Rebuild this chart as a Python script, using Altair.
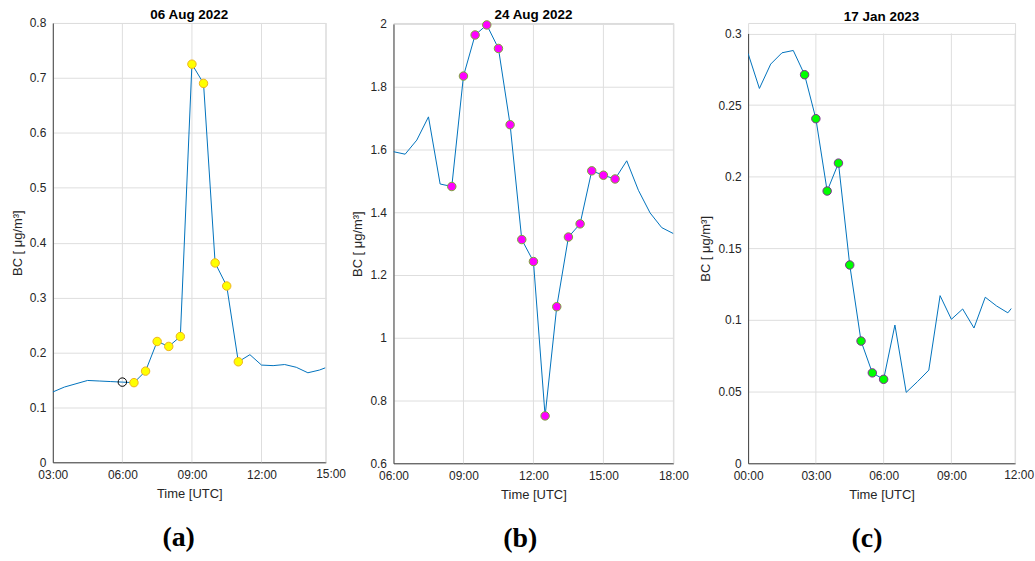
import altair as alt
import pandas as pd

# ---------------- data (hours UTC, BC in ug/m3) ----------------
a_times = [3.0, 3.5, 4.0, 4.5, 5.0, 5.5, 6.0, 6.5, 7.0, 7.5, 8.0, 8.5, 9.0, 9.5,
           10.0, 10.5, 11.0, 11.5, 12.0, 12.5, 13.0, 13.5, 14.0, 14.5, 14.75]
a_bc = [0.128, 0.137, 0.143, 0.149, 0.148, 0.147, 0.146, 0.145, 0.166, 0.220, 0.211, 0.229,
        0.725, 0.690, 0.363, 0.321, 0.183, 0.196, 0.177, 0.176, 0.178, 0.173, 0.163, 0.168, 0.172]
a_mark_t = [6.5, 7.0, 7.5, 8.0, 8.5, 9.0, 9.5, 10.0, 10.5, 11.0]
a_mark_v = [0.145, 0.166, 0.220, 0.211, 0.229, 0.725, 0.690, 0.363, 0.321, 0.183]
a_open_t = [6.0]
a_open_v = [0.146]

b_times = [6.0, 6.5, 7.0, 7.5, 8.0, 8.5, 9.0, 9.5, 10.0, 10.5, 11.0, 11.5, 12.0,
           12.5, 13.0, 13.5, 14.0, 14.5, 15.0, 15.5, 16.0, 16.5, 17.0, 17.5, 18.0]
b_bc = [1.593, 1.585, 1.630, 1.704, 1.490, 1.482, 1.834, 1.965, 1.997, 1.922, 1.679, 1.313, 1.243,
        0.751, 1.099, 1.321, 1.363, 1.532, 1.518, 1.506, 1.564, 1.470, 1.398, 1.351, 1.332]
b_mark_t = [8.5, 9.0, 9.5, 10.0, 10.5, 11.0, 11.5, 12.0, 12.5, 13.0, 13.5, 14.0, 14.5, 15.0, 15.5]
b_mark_v = [1.482, 1.834, 1.965, 1.997, 1.922, 1.679, 1.313, 1.243, 0.751, 1.099, 1.321, 1.363,
            1.532, 1.518, 1.506]

c_times = [0.0, 0.5, 1.0, 1.5, 2.0, 2.5, 3.0, 3.5, 4.0, 4.5, 5.0, 5.5, 6.0, 6.5, 7.0, 7.5,
           8.0, 8.5, 9.0, 9.5, 10.0, 10.5, 11.0, 11.5, 11.65]
c_bc = [0.286, 0.2616, 0.2786, 0.2865, 0.2881, 0.2712, 0.2405, 0.190, 0.2095, 0.1384, 0.0853,
        0.0631, 0.0586, 0.0965, 0.0495, 0.057, 0.065, 0.117, 0.1005, 0.1077, 0.0944, 0.1159,
        0.1098, 0.105, 0.108]
c_mark_t = [2.5, 3.0, 3.5, 4.0, 4.5, 5.0, 5.5, 6.0]
c_mark_v = [0.2712, 0.2405, 0.190, 0.2095, 0.1384, 0.0853, 0.0631, 0.0586]

titles = ["06 Aug 2022", "24 Aug 2022", "17 Jan 2023"]
letters = ["(a)", "(b)", "(c)"]

FONT = "Liberation Sans"
LINE = "#0072BD"
GRID = "#dedede"
AX = "#262626"

LABEL_EXPR = "(datum.value < 10 ? '0' : '') + datum.value + ':00'"


def panel(times, bc, mk_t, mk_v, fill, stroke, title, ydom, yvals, xdom, xvals,
          xgrid, extra, width, height, ytop, toff, open_pts=None):
    df = pd.DataFrame({"t": times, "bc": bc})
    mk = pd.DataFrame({"t": mk_t, "bc": mk_v})
    xs = alt.Scale(domain=xdom, nice=False, zero=False)
    ys = alt.Scale(domain=ydom, nice=False, zero=False, range=[height, ytop])
    xax = alt.Axis(values=xvals, labelExpr=LABEL_EXPR, grid=False, ticks=False,
                   labelPadding=7, title="Time [UTC]", titlePadding=7,
                   labelFont=FONT, labelFontSize=12, labelColor=AX,
                   titleFont=FONT, titleFontSize=13, titleFontWeight="normal", titleColor=AX,
                   domainColor="#404040", labelFlush=False, labelOverlap=False)
    yax = alt.Axis(values=yvals, format="~g", grid=True, gridColor=GRID, ticks=False,
                   labelPadding=7, title="BC [ μg/m³]", titlePadding=5,
                   labelFont=FONT, labelFontSize=12, labelColor=AX,
                   titleFont=FONT, titleFontSize=13, titleFontWeight="normal", titleColor=AX,
                   domainColor="#404040", labelFlush=False, labelOverlap=False)

    gdf = pd.DataFrame({"t": xgrid, "y0": [ydom[0]] * len(xgrid), "y1": [ydom[1]] * len(xgrid)})
    grid = alt.Chart(gdf).mark_rule(color=GRID, strokeWidth=1).encode(
        x=alt.X("t:Q", scale=xs, axis=xax),
        y=alt.Y("y0:Q", scale=ys, axis=yax),
        y2="y1:Q")
    line = alt.Chart(df).mark_line(color=LINE, strokeWidth=1, clip=True).encode(
        x=alt.X("t:Q", scale=xs),
        y=alt.Y("bc:Q", scale=ys))
    pts = alt.Chart(mk).mark_point(shape="circle", filled=True, fill=fill, stroke=stroke,
                                   strokeWidth=1, size=72, opacity=1).encode(
        x="t:Q", y="bc:Q")
    layers = [grid, line, pts]
    if open_pts is not None:
        op = pd.DataFrame({"t": open_pts[0], "bc": open_pts[1]})
        layers.append(alt.Chart(op).mark_point(shape="circle", filled=False, stroke="black",
                                               strokeWidth=1, size=72, opacity=1).encode(
            x="t:Q", y="bc:Q"))
    if extra is not None:
        ex = pd.DataFrame({"t": [extra], "lab": ["%02d:00" % extra]})
        layers.append(alt.Chart(ex).mark_text(font=FONT, fontSize=12, color=AX,
                                              baseline="top", align="center", dy=7).encode(
            x="t:Q", y=alt.datum(ydom[0], scale=ys), text="lab:N"))
    ch = alt.layer(*layers).properties(
        width=width, height=height,
        title=alt.TitleParams(title, font=FONT, fontSize=13.5, fontWeight="bold", color="black",
                              anchor="middle", frame="group", offset=toff))
    return ch


pa = panel(a_times, a_bc, a_mark_t, a_mark_v, "#FFFF00", "#EDB120", titles[0],
           [0, 0.8], [0, 0.1, 0.2, 0.3, 0.4, 0.5, 0.6, 0.7, 0.8], [3, 14.77], [3, 6, 9, 12],
           [6, 9, 12, 14.77], 15, 274, 441, 0, -4, open_pts=(a_open_t, a_open_v))
pb = panel(b_times, b_bc, b_mark_t, b_mark_v, "#FF00FF", "#77AC30", titles[1],
           [0.6, 2.0], [0.6, 0.8, 1.0, 1.2, 1.4, 1.6, 1.8, 2.0], [6, 18], [6, 9, 12, 15, 18],
           [9, 12, 15, 18], None, 281, 442, 1, -4)
pc = panel(c_times, c_bc, c_mark_t, c_mark_v, "#00FF00", "#7E2F8E", titles[2],
           [0, 0.3], [0, 0.05, 0.1, 0.15, 0.2, 0.25, 0.3], [0, 11.82], [0, 3, 6, 9],
           [3, 6, 9, 11.82], 12, 268, 442, 10.5, -1)


def wrap(ch, letter):
    return alt.vconcat(ch, title=alt.TitleParams(letter, orient="bottom", font="Liberation Serif",
                                                 fontSize=28, fontWeight="bold", color="black",
                                                 anchor="middle", offset=24))


inner = alt.hconcat(wrap(pa, letters[0]), wrap(pb, letters[1]), spacing=4)
chart = alt.hconcat(inner, wrap(pc, letters[2]), spacing=10).properties(
    padding={"left": 10, "top": 6, "right": 0, "bottom": 0}
).configure_view(stroke=None).configure(background="white")

chart.save("out.html", embed_options={"renderer": "svg", "actions": False})
